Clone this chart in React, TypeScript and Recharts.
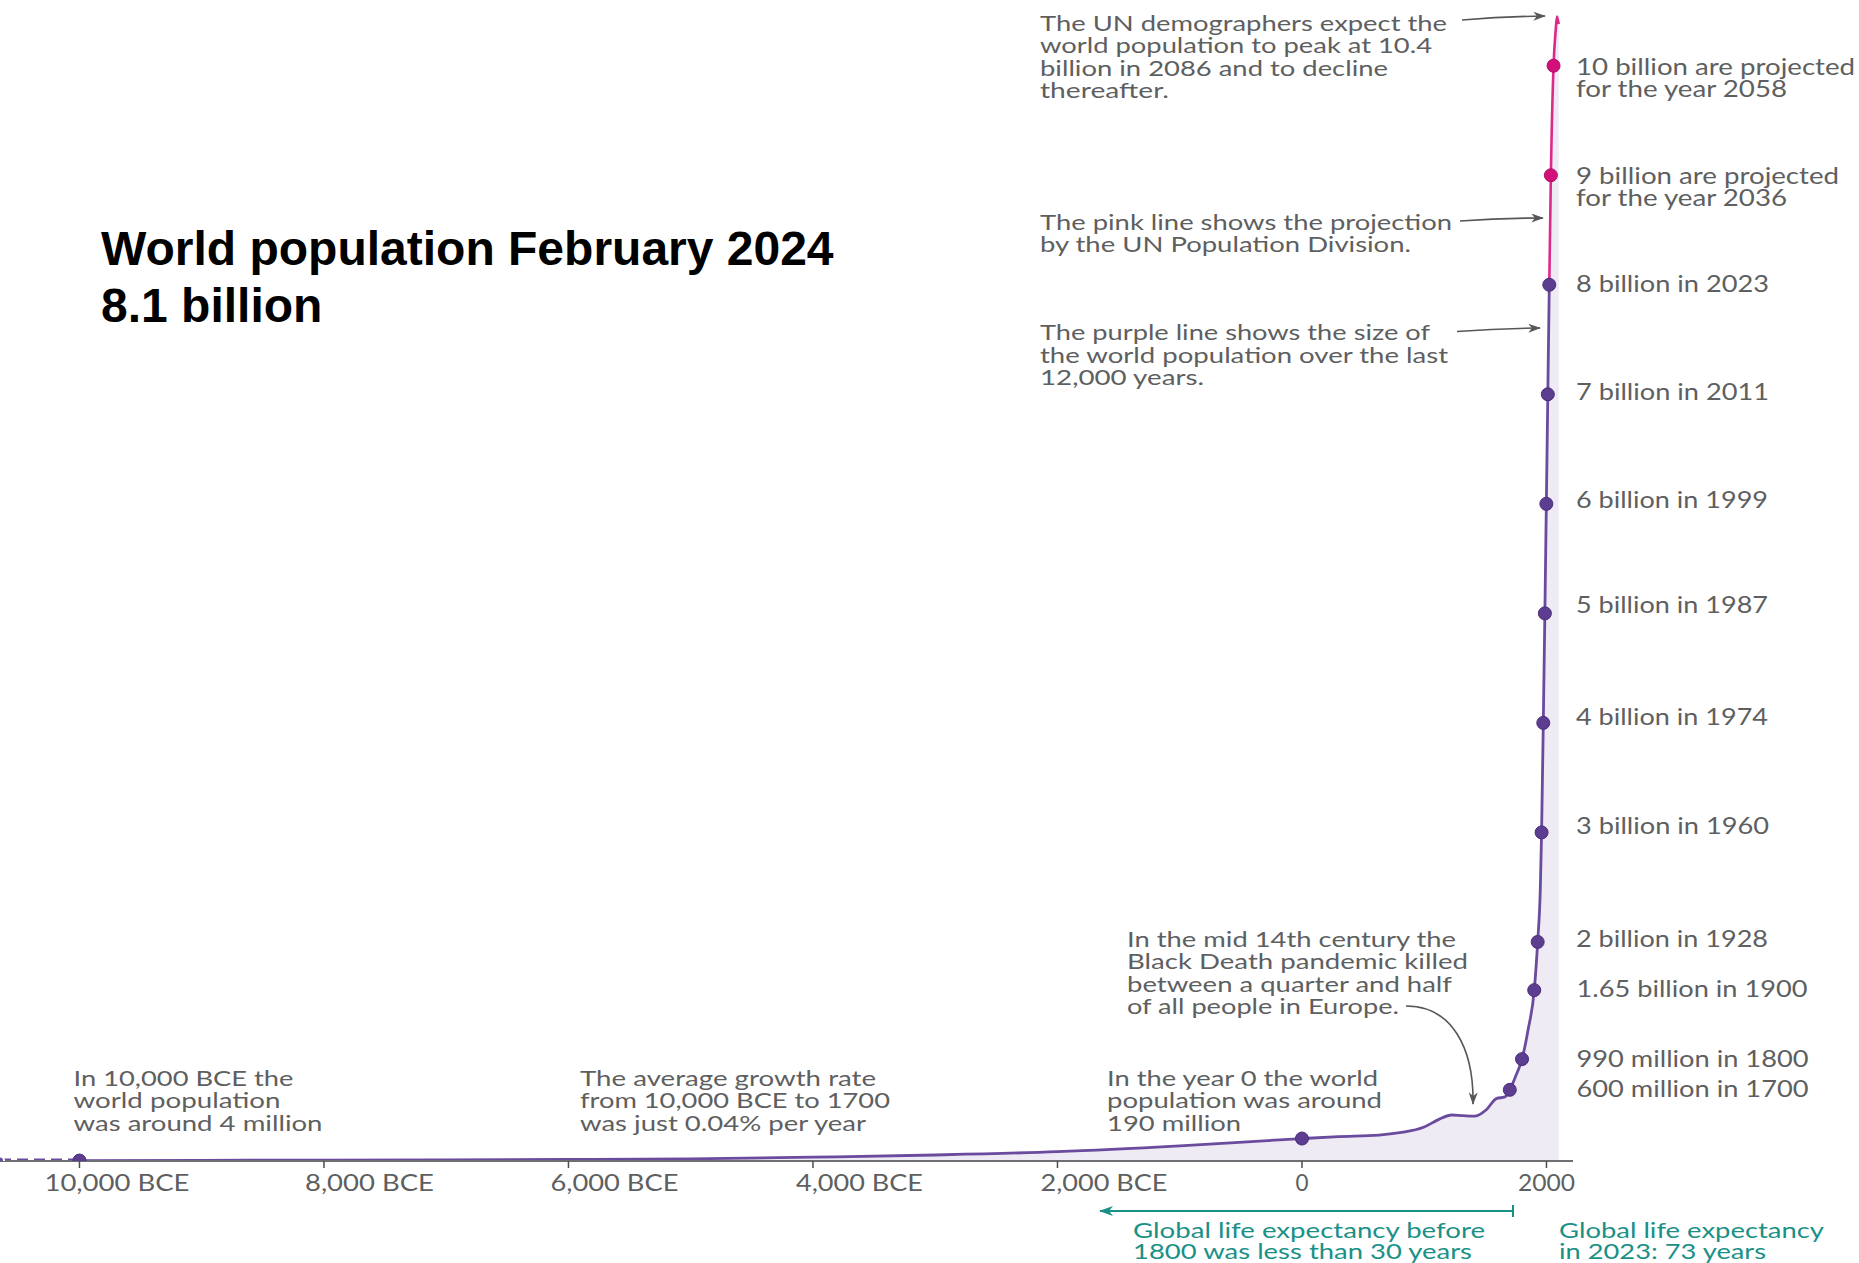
import React from 'react';
import { ComposedChart, Area, Line, XAxis, YAxis } from 'recharts';

// ---------- data (population in billions) ----------
const historyYears = [-10000, -9000, -8000, -7000, -6000, -5000, -4000, -3000, -2000, -1000, 0, 300, 630, 800, 1000, 1120, 1225, 1320, 1415, 1510, 1590, 1660, 1700, 1750, 1800, 1850, 1900, 1928, 1950, 1960, 1974, 1987, 1999, 2011, 2023];
const historyValues = [0.004, 0.006, 0.008, 0.011, 0.015, 0.02, 0.035, 0.055, 0.085, 0.138, 0.205, 0.222, 0.236, 0.258, 0.31, 0.38, 0.42, 0.414, 0.41, 0.47, 0.57, 0.585, 0.65, 0.78, 0.93, 1.2, 1.56, 2.0, 2.5, 3.0, 4.0, 5.0, 6.0, 7.0, 8.0];

const projectionYears = [2023, 2036, 2058, 2075, 2086, 2100];
const projectionValues = [8.0, 9.0, 10.0, 10.32, 10.45, 10.38];

const earlyYears = [-10650, -10000];
const earlyValues = [0.004, 0.004];

const milestoneYears = [-10000, 0, 1700, 1800, 1900, 1928, 1960, 1974, 1987, 1999, 2011, 2023];
const milestoneValues = [0.004, 0.205, 0.65, 0.93, 1.56, 2.0, 3.0, 4.0, 5.0, 6.0, 7.0, 8.0];

const projectedMilestoneYears = [2036, 2058];
const projectedMilestoneValues = [9.0, 10.0];

const tickYears = [-10000, -8000, -6000, -4000, -2000, 0, 2000];
const tickLabels = ['10,000 BCE', '8,000 BCE', '6,000 BCE', '4,000 BCE', '2,000 BCE', '0', '2000'];

const toRows = (years: number[], values: number[]) => years.map((year, i) => ({ year, pop: values[i] }));
const historyData = toRows(historyYears, historyValues);
const projectionData = toRows(projectionYears, projectionValues);
const areaData = [...historyData, ...projectionData.slice(1)];
const earlyData = toRows(earlyYears, earlyValues);
const milestoneData = toRows(milestoneYears, milestoneValues);
const projectedMilestoneData = toRows(projectedMilestoneYears, projectedMilestoneValues);

// ---------- styles ----------
const PURPLE = '#6a4b9e';
const PURPLE_DOT = '#5c3d90';
const PINK = '#dc2a8a';
const PINK_DOT = '#d3107a';
const FILL = '#eeebf4';
const GRAY = '#5e5f61';
const TEAL = '#1a9187';
const FONT = 'Lato, "Open Sans", sans-serif';

const tickWidths: Record<string, number> = {
  '10,000 BCE': 145, '8,000 BCE': 129, '6,000 BCE': 128, '4,000 BCE': 127, '2,000 BCE': 127, '0': 13, '2000': 57,
};

const XTick = (props: any) => {
  const { x, y, payload } = props;
  const idx = tickYears.indexOf(payload.value);
  const label = tickLabels[idx] ?? String(payload.value);
  const bce = payload.value < 0;
  return (
    <text
      x={bce ? x + 110 : x}
      y={y + 23}
      textAnchor={bce ? 'end' : 'middle'}
      fontFamily={FONT}
      fontSize={23}
      fill={GRAY}
      textLength={tickWidths[label]}
      lengthAdjust="spacingAndGlyphs"
    >
      {label}
    </text>
  );
};

type Note = { x: number; y: number; lh: number; lines: string[]; widths: number[]; color?: string; size?: number };

const notes: Note[] = [
  { x: 1040, y: 30.5, lh: 22.5, lines: ['The UN demographers expect the', 'world population to peak at 10.4', 'billion in 2086 and to decline', 'thereafter.'], widths: [407, 392, 348, 129] },
  { x: 1040, y: 229.5, lh: 22.8, lines: ['The pink line shows the projection', 'by the UN Population Division.'], widths: [412, 371] },
  { x: 1040, y: 340, lh: 22.5, lines: ['The purple line shows the size of', 'the world population over the last', '12,000 years.'], widths: [390, 408, 164] },
  { x: 1127, y: 947, lh: 22.4, lines: ['In the mid 14th century the', 'Black Death pandemic killed', 'between a quarter and half', 'of all people in Europe.'], widths: [329, 341, 325, 272] },
  { x: 1107, y: 1085.5, lh: 22.8, lines: ['In the year 0 the world', 'population was around', '190 million'], widths: [271, 275, 134] },
  { x: 73.5, y: 1085.5, lh: 22.6, lines: ['In 10,000 BCE the', 'world population', 'was around 4 million'], widths: [220, 207, 249] },
  { x: 580, y: 1085.5, lh: 22.6, lines: ['The average growth rate', 'from 10,000 BCE to 1700', 'was just 0.04% per year'], widths: [296, 310, 286] },
  { x: 1133, y: 1237.5, lh: 21.5, lines: ['Global life expectancy before', '1800 was less than 30 years'], widths: [352, 339], color: TEAL },
  { x: 1559, y: 1237.5, lh: 21.5, lines: ['Global life expectancy', 'in 2023: 73 years'], widths: [265, 207], color: TEAL },
  { x: 1576, y: 74.5, lh: 22.6, size: 23, lines: ['10 billion are projected', 'for the year 2058'], widths: [279, 211] },
  { x: 1576, y: 183.5, lh: 22.6, size: 23, lines: ['9 billion are projected', 'for the year 2036'], widths: [263, 211] },
  { x: 1576, y: 292, lh: 0, size: 23, lines: ['8 billion in 2023'], widths: [193] },
  { x: 1576, y: 399.5, lh: 0, size: 23, lines: ['7 billion in 2011'], widths: [193] },
  { x: 1576, y: 507.5, lh: 0, size: 23, lines: ['6 billion in 1999'], widths: [192] },
  { x: 1576, y: 612.5, lh: 0, size: 23, lines: ['5 billion in 1987'], widths: [192] },
  { x: 1576, y: 725, lh: 0, size: 23, lines: ['4 billion in 1974'], widths: [192] },
  { x: 1576, y: 833.5, lh: 0, size: 23, lines: ['3 billion in 1960'], widths: [193] },
  { x: 1576, y: 947, lh: 0, size: 23, lines: ['2 billion in 1928'], widths: [192] },
  { x: 1576.5, y: 996.5, lh: 0, size: 23, lines: ['1.65 billion in 1900'], widths: [231] },
  { x: 1576.5, y: 1067, lh: 0, size: 23, lines: ['990 million in 1800'], widths: [232] },
  { x: 1576.5, y: 1096.5, lh: 0, size: 23, lines: ['600 million in 1700'], widths: [232] },
];

const Overlay = () => (
  <svg width={1859} height={1263} style={{ position: 'absolute', left: 0, top: 0, pointerEvents: 'none' }}>
    <defs>
      <marker id="ahGray" viewBox="0 0 14 10" refX="13" refY="5" markerWidth="14" markerHeight="9" markerUnits="userSpaceOnUse" orient="auto">
        <path d="M0,0 L14,5 L0,10 L4,5 z" fill="#55575a" />
      </marker>
      <marker id="ahTeal" viewBox="0 0 14 10" refX="13" refY="5" markerWidth="14" markerHeight="10" markerUnits="userSpaceOnUse" orient="auto-start-reverse">
        <path d="M0,0 L14,5 L0,10 L4,5 z" fill={TEAL} />
      </marker>
    </defs>
    <text x={101} y={265} fontFamily='"Liberation Sans", Arial, sans-serif' fontWeight="bold" fontSize={48} fill="#000">World population February 2024</text>
    <text x={101} y={322} fontFamily='"Liberation Sans", Arial, sans-serif' fontWeight="bold" fontSize={48} fill="#000">8.1 billion</text>
    {notes.map((n, i) =>
      n.lines.map((line, j) => (
        <text
          key={`${i}-${j}`}
          x={n.x}
          y={n.y + j * n.lh}
          fontFamily={FONT}
          fontSize={n.size ?? 22}
          fill={n.color ?? GRAY}
          textLength={n.widths[j]}
          lengthAdjust="spacingAndGlyphs"
        >
          {line}
        </text>
      ))
    )}
    <path d="M1462,20 Q1505,16.5 1545,16" fill="none" stroke="#55575a" strokeWidth={1.6} markerEnd="url(#ahGray)" />
    <path d="M1460,221 Q1500,218 1543,218" fill="none" stroke="#55575a" strokeWidth={1.6} markerEnd="url(#ahGray)" />
    <path d="M1457,331.5 Q1498,328.5 1540,328" fill="none" stroke="#55575a" strokeWidth={1.6} markerEnd="url(#ahGray)" />
    <path d="M1406,1006 C1452,1006 1474,1048 1473,1104" fill="none" stroke="#55575a" strokeWidth={1.6} markerEnd="url(#ahGray)" />
    <line x1={1100} y1={1211} x2={1513} y2={1211} stroke={TEAL} strokeWidth={2} markerStart="url(#ahTeal)" />
    <line x1={1513} y1={1205} x2={1513} y2={1217} stroke={TEAL} strokeWidth={2} />
  </svg>
);

const dotPurple = { r: 6.5, fill: PURPLE_DOT, stroke: '#4a2d7c', strokeWidth: 1 };
const dotPink = { r: 6.5, fill: PINK_DOT, stroke: '#b00d66', strokeWidth: 1 };

export default function App() {
  return (
    <div style={{ position: 'relative', width: 1859, height: 1263, background: '#fff' }}>
      <style>{'body{margin:0;background:#fff}'}</style>
      <ComposedChart width={1859} height={1263} margin={{ top: 0, right: 286, bottom: 42, left: 0 }}>
        <XAxis
          dataKey="year"
          type="number"
          domain={[-10650, 2217]}
          allowDataOverflow
          ticks={tickYears}
          interval={0}
          height={60}
          axisLine={{ stroke: '#6d6e71', strokeWidth: 2 }}
          tickLine={{ stroke: '#4d4e50', strokeWidth: 1.5 }}
          tickSize={7}
          tickMargin={0}
          tick={(p: any) => <XTick {...p} />}
        />
        <YAxis dataKey="pop" type="number" domain={[0, 10.6]} allowDataOverflow hide />
        <Area data={areaData} dataKey="pop" type="monotone" fill={FILL} fillOpacity={1} stroke="none" isAnimationActive={false} />
        <Line data={earlyData} dataKey="pop" type="linear" stroke={PURPLE} strokeWidth={4} strokeDasharray="11 6" dot={false} isAnimationActive={false} />
        <Line data={historyData} dataKey="pop" type="monotone" stroke={PURPLE} strokeWidth={2.8} dot={false} isAnimationActive={false} />
        <Line data={projectionData} dataKey="pop" type="monotone" stroke={PINK} strokeWidth={2.6} dot={false} isAnimationActive={false} />
        <Line data={milestoneData} dataKey="pop" stroke="none" dot={dotPurple} activeDot={false} isAnimationActive={false} />
        <Line data={projectedMilestoneData} dataKey="pop" stroke="none" dot={dotPink} activeDot={false} isAnimationActive={false} />
      </ComposedChart>
      <Overlay />
    </div>
  );
}
